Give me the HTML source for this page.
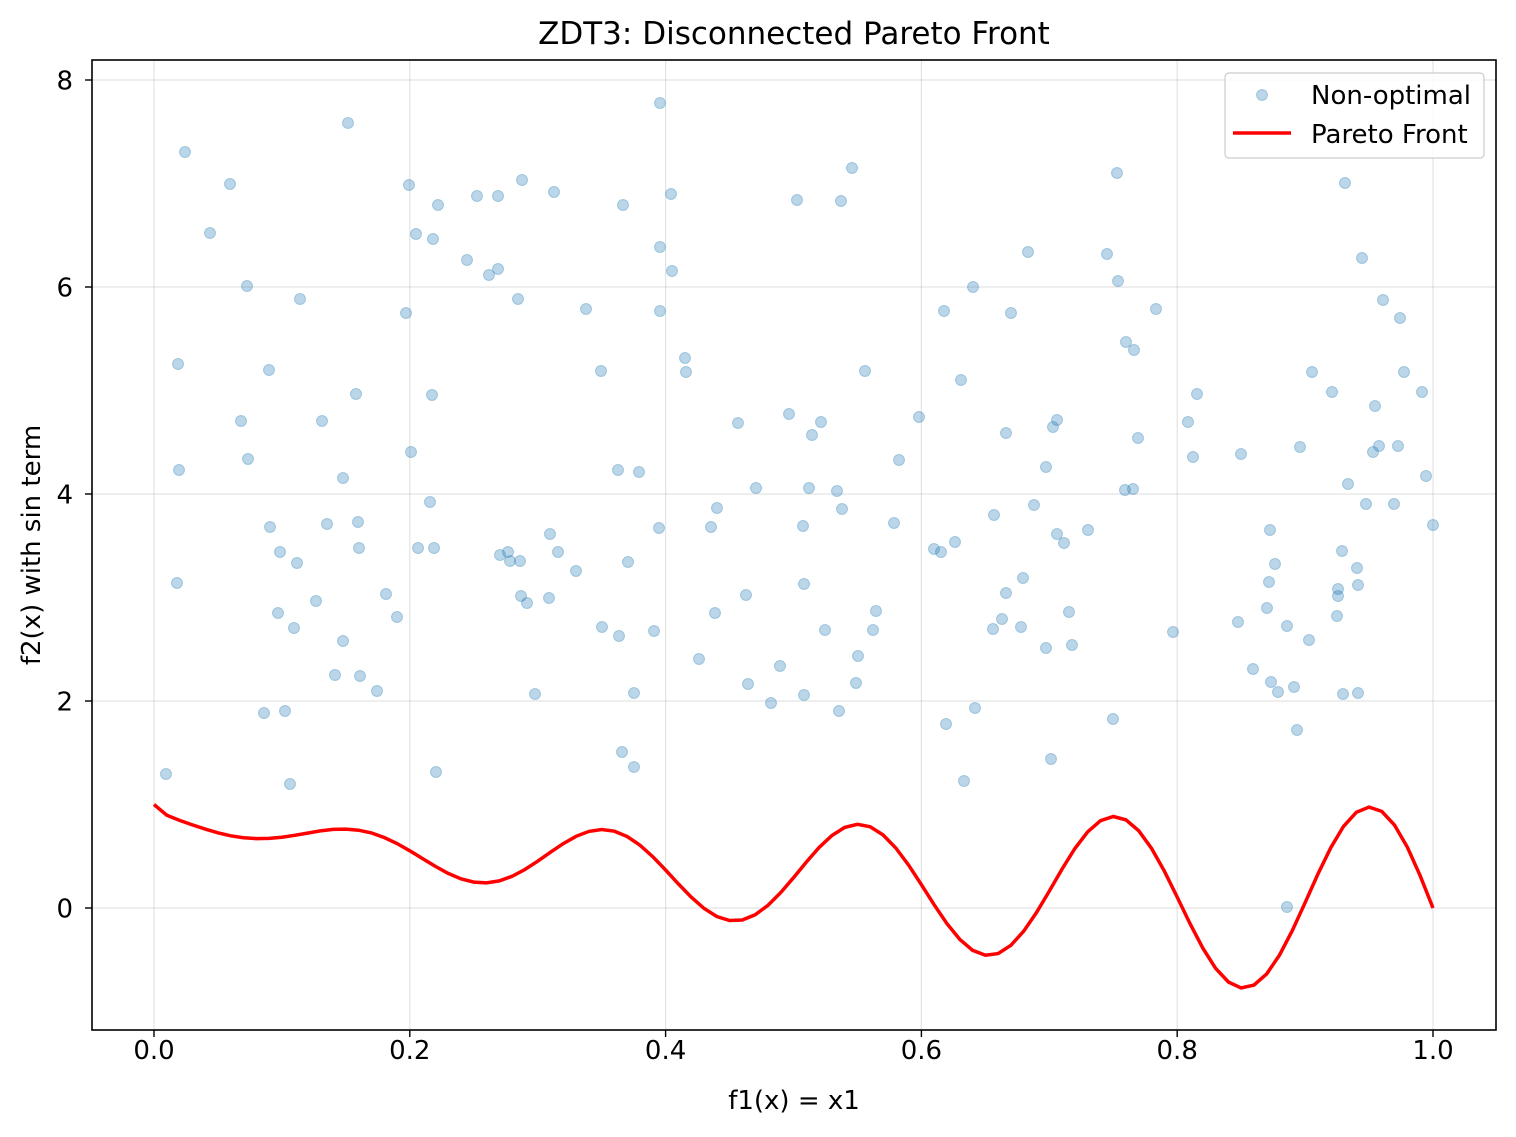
<!DOCTYPE html>
<html><head><meta charset="utf-8"><style>
body{margin:0;background:#fff;}
svg text{font-family:"DejaVu Sans","Liberation Sans",sans-serif;fill:#000;}
.t{font-size:26px;}
</style></head><body>
<svg id="s" width="1516" height="1132" viewBox="0 0 1516 1132" xmlns="http://www.w3.org/2000/svg">
<rect width="1516" height="1132" fill="#fff"/>
<g id="grid" stroke="#b0b0b0" stroke-opacity="0.35" stroke-width="1.2"></g>
<g id="pts"></g>
<path id="pf" fill="none" stroke="#ff0000" stroke-width="3.5"/>
<rect x="92" y="60" width="1404" height="970" fill="none" stroke="#000" stroke-width="1.6"/>
<g id="ticks" stroke="#000" stroke-width="1.4"></g>
<g id="labels" class="t"></g>
<text x="794" y="44" style="font-size:31px" text-anchor="middle">ZDT3: Disconnected Pareto Front</text>
<text x="794" y="1109" class="t" text-anchor="middle">f1(x) = x1</text>
<text transform="translate(40,545) rotate(-90)" class="t" text-anchor="middle">f2(x) with sin term</text>
<rect x="1225" y="73" width="259" height="85" rx="4" fill="#fff" fill-opacity="0.8" stroke="#ccc" stroke-width="1.2"/>
<circle cx="1262" cy="95" r="5.5" fill="#1f77b4" fill-opacity="0.3" stroke="#1f77b4" stroke-opacity="0.3"/>
<text x="1311" y="104" class="t">Non-optimal</text>
<line x1="1233" y1="133" x2="1291" y2="133" stroke="#ff0000" stroke-width="3.5"/>
<text x="1311" y="143" class="t">Pareto Front</text>
</svg>
<script>
var ns="http://www.w3.org/2000/svg";
function el(p,t,a,txt){var e=document.createElementNS(ns,t);for(var k in a)e.setAttribute(k,a[k]);if(txt)e.textContent=txt;document.getElementById(p).appendChild(e);}
function X(v){return 154+v*1279;} function Y(v){return 908-v*103.5;}
for(var i=0;i<=5;i++){var x=X(i*0.2);el("grid","line",{x1:x,y1:60,x2:x,y2:1030});el("ticks","line",{x1:x,y1:1030,x2:x,y2:1037});el("labels","text",{x:x,y:1059,"text-anchor":"middle"},(i*0.2).toFixed(1));}
for(var j=0;j<=8;j+=2){var y=Y(j);el("grid","line",{x1:92,y1:y,x2:1496,y2:y});el("ticks","line",{x1:85,y1:y,x2:92,y2:y});el("labels","text",{x:73,y:y+9.5,"text-anchor":"end"},String(j));}
var P=[[166,774],[185,152],[230,184],[210,233],[247,286],[178,364],[179,470],[177,583],[241,421],[248,459],[269,370],[264,713],[285,711],[290,784],[270,527],[280,552],[278,613],[297,563],[294,628],[300,299],[316,601],[322,421],[327,524],[343,478],[343,641],[335,675],[348,123],[356,394],[358,522],[359,548],[360,676],[377,691],[386,594],[397,617],[406,313],[409,185],[411,452],[416,234],[418,548],[430,502],[433,239],[432,395],[434,548],[436,772],[438,205],[467,260],[477,196],[489,275],[498,269],[498,196],[500,555],[508,552],[510,561],[518,299],[520,561],[521,596],[522,180],[527,603],[535,694],[549,598],[554,192],[550,534],[558,552],[576,571],[586,309],[601,371],[602,627],[618,470],[619,636],[622,752],[623,205],[628,562],[634,693],[634,767],[639,472],[654,631],[660,103],[660,247],[660,311],[659,528],[671,194],[672,271],[685,358],[686,372],[699,659],[711,527],[715,613],[717,508],[738,423],[746,595],[748,684],[756,488],[771,703],[780,666],[789,414],[797,200],[803,526],[804,584],[804,695],[809,488],[812,435],[821,422],[825,630],[837,491],[841,201],[842,509],[839,711],[852,168],[858,656],[856,683],[865,371],[873,630],[876,611],[894,523],[899,460],[919,417],[934,549],[941,552],[944,311],[946,724],[955,542],[961,380],[964,781],[973,287],[975,708],[994,515],[993,629],[1002,619],[1006,593],[1006,433],[1011,313],[1021,627],[1023,578],[1028,252],[1034,505],[1046,648],[1046,467],[1051,759],[1053,427],[1057,420],[1057,534],[1064,543],[1069,612],[1072,645],[1088,530],[1107,254],[1113,719],[1117,173],[1118,281],[1126,342],[1125,490],[1134,350],[1133,489],[1138,438],[1156,309],[1173,632],[1188,422],[1193,457],[1197,394],[1238,622],[1241,454],[1253,669],[1267,608],[1269,582],[1270,530],[1271,682],[1275,564],[1278,692],[1287,626],[1287,907],[1294,687],[1297,730],[1300,447],[1309,640],[1312,372],[1332,392],[1337,616],[1338,589],[1338,596],[1342,551],[1343,694],[1345,183],[1348,484],[1357,568],[1358,585],[1358,693],[1362,258],[1366,504],[1373,452],[1375,406],[1379,446],[1383,300],[1394,504],[1398,446],[1400,318],[1404,372],[1422,392],[1426,476],[1433,525]];
P.forEach(function(p){el("pts","circle",{cx:p[0],cy:p[1],r:5.5,fill:"#1f77b4","fill-opacity":0.3,stroke:"#1f77b4","stroke-opacity":0.3});});
var d="";for(var k=0;k<=100;k++){var x=k/100;var f=1-Math.sqrt(x)-x*Math.sin(10*Math.PI*x);d+=(k?"L":"M")+X(x).toFixed(1)+","+Y(f).toFixed(1);}
document.getElementById("pf").setAttribute("d",d);
</script>
</body></html>
